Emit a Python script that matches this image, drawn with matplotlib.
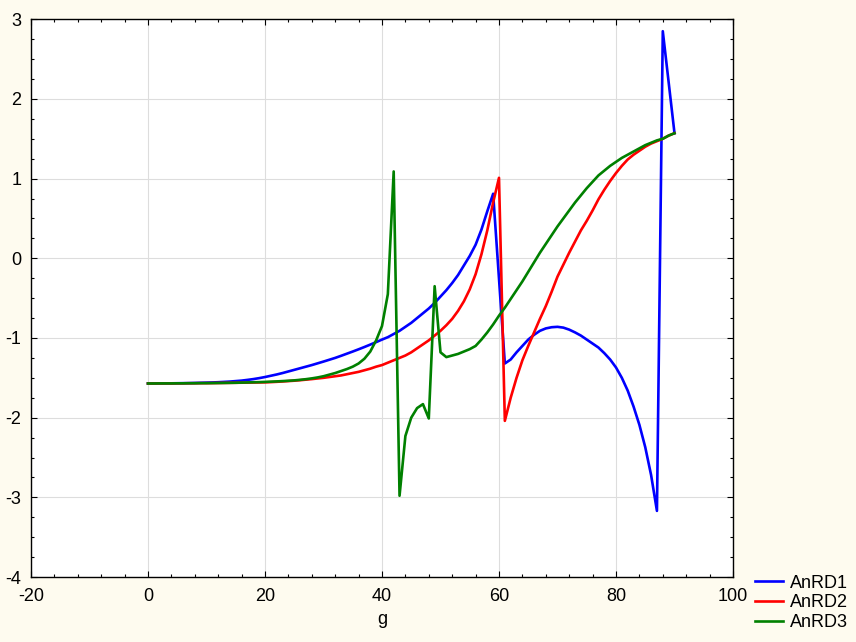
import numpy as np
import matplotlib
matplotlib.use("Agg")
import matplotlib.pyplot as plt
from matplotlib.ticker import MultipleLocator

# g values 0..90
g = np.arange(0, 91)

anrd1 = [
    -1.570, -1.570, -1.570, -1.569, -1.569, -1.568, -1.567, -1.566, -1.564, -1.562,
    -1.560, -1.558, -1.555, -1.551, -1.547, -1.541, -1.535, -1.526, -1.516, -1.504,
    -1.490, -1.474, -1.458, -1.440, -1.420, -1.400, -1.380, -1.360, -1.340, -1.318,
    -1.296, -1.273, -1.250, -1.224, -1.197, -1.170, -1.142, -1.113, -1.083, -1.052,
    -1.020, -0.990, -0.950, -0.910, -0.860, -0.810, -0.750, -0.690, -0.630, -0.560,
    -0.480, -0.400, -0.310, -0.210, -0.090, 0.030, 0.170, 0.360, 0.590, 0.810,
    -0.255, -1.320, -1.270, -1.180, -1.100, -1.020, -0.960, -0.910, -0.880, -0.865,
    -0.860, -0.870, -0.895, -0.930, -0.970, -1.020, -1.070, -1.120, -1.190, -1.270,
    -1.370, -1.500, -1.660, -1.860, -2.090, -2.370, -2.720, -3.170, 2.850, 2.210,
    1.570,
]

anrd2 = [
    -1.571, -1.571, -1.570, -1.570, -1.570, -1.569, -1.569, -1.568, -1.568, -1.567,
    -1.567, -1.566, -1.565, -1.564, -1.563, -1.562, -1.561, -1.560, -1.559, -1.558,
    -1.557, -1.554, -1.550, -1.546, -1.541, -1.536, -1.530, -1.523, -1.516, -1.508,
    -1.500, -1.490, -1.480, -1.470, -1.455, -1.440, -1.425, -1.405, -1.385, -1.360,
    -1.340, -1.310, -1.280, -1.250, -1.220, -1.180, -1.130, -1.080, -1.030, -0.970,
    -0.910, -0.840, -0.760, -0.660, -0.540, -0.390, -0.200, 0.050, 0.350, 0.700,
    1.010, -2.040, -1.750, -1.500, -1.280, -1.100, -0.930, -0.760, -0.600, -0.420,
    -0.230, -0.080, 0.070, 0.210, 0.350, 0.470, 0.600, 0.740, 0.860, 0.970,
    1.070, 1.160, 1.240, 1.300, 1.350, 1.400, 1.440, 1.470, 1.500, 1.540,
    1.570,
]

anrd3 = [
    -1.571, -1.571, -1.570, -1.570, -1.570, -1.569, -1.569, -1.568, -1.568, -1.567,
    -1.567, -1.566, -1.565, -1.564, -1.563, -1.562, -1.560, -1.558, -1.556, -1.554,
    -1.551, -1.548, -1.545, -1.541, -1.537, -1.532, -1.525, -1.517, -1.507, -1.495,
    -1.480, -1.460, -1.440, -1.415, -1.390, -1.360, -1.320, -1.260, -1.170, -1.030,
    -0.850, -0.450, 1.090, -2.980, -2.230, -2.000, -1.880, -1.830, -2.010, -0.350,
    -1.180, -1.240, -1.220, -1.200, -1.170, -1.140, -1.100, -1.020, -0.930, -0.830,
    -0.720, -0.620, -0.510, -0.400, -0.290, -0.170, -0.050, 0.070, 0.180, 0.290,
    0.400, 0.500, 0.600, 0.700, 0.790, 0.880, 0.960, 1.040, 1.100, 1.160,
    1.210, 1.260, 1.300, 1.340, 1.380, 1.420, 1.450, 1.480, 1.500, 1.540,
    1.570,
]

series_names = ["AnRD1", "AnRD2", "AnRD3"]
colors = ["#0000FF", "#FF0000", "#008000"]

plt.rcParams['font.family'] = ['Liberation Sans', 'DejaVu Sans']
plt.rcParams['font.size'] = 13
plt.rcParams['axes.unicode_minus'] = False

bg = "#FEFBEF"
fig = plt.figure(figsize=(8.56, 6.42), dpi=100, facecolor=bg)
ax = fig.add_axes([0.0362, 0.1012, 0.8201, 0.8688])
ax.set_facecolor("white")

for ys, name, c in zip([anrd1, anrd2, anrd3], series_names, colors):
    ax.plot(g, ys, color=c, lw=1.9, label=name)

ax.set_xlim(-20, 100)
ax.set_ylim(-4, 3)
ax.xaxis.set_major_locator(MultipleLocator(20))
ax.xaxis.set_minor_locator(MultipleLocator(4))
ax.yaxis.set_major_locator(MultipleLocator(1))
ax.yaxis.set_minor_locator(MultipleLocator(0.25))
ax.grid(True, which='major', color='#DDDDDD', lw=0.8)
ax.set_axisbelow(True)
ax.tick_params(which='both', direction='in', top=True, right=True, color='black')
ax.tick_params(which='major', length=4, width=0.8, labelsize=13)
ax.tick_params(which='minor', length=2.5, width=0.8)
ax.tick_params(axis='y', pad=7)
ax.tick_params(axis='x', pad=8)
for s in ax.spines.values():
    s.set_linewidth(1.0)

ax.set_xlabel("g", fontsize=13, labelpad=4)

handles, labels = ax.get_legend_handles_labels()
fig.legend(handles, labels, loc='lower left', bbox_to_anchor=(0.869, 0.0),
           frameon=False, fontsize=13, handlelength=1.55, handletextpad=0.4,
           labelspacing=0.15, borderpad=0.3, borderaxespad=0.3)

fig.savefig("out.png", dpi=100, facecolor=bg)
